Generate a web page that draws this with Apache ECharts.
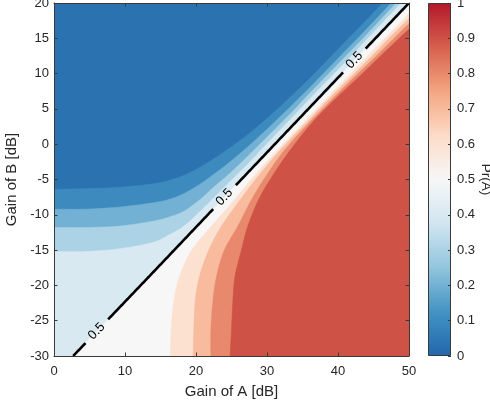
<!DOCTYPE html>
<html>
<head>
<meta charset="utf-8">
<script src="https://cdn.jsdelivr.net/npm/echarts@6.0.0/dist/echarts.min.js"></script>
<style>
  html, body { margin: 0; padding: 0; background: #ffffff; }
  #chart { width: 490px; height: 406px; }
</style>
</head>
<body>
<div id="chart"></div>
<script>
// Filled contours of Pr(A) over Gain of A [dB] (x) and Gain of B [dB] (y).
// Each level is stored as a boundary polyline; the region on its high side gets the level colour.
const levels = [0.1, 0.2, 0.3, 0.4, 0.5, 0.6, 0.7, 0.8, 0.9];

// Pr(A) = 0.1 .. 0.4 : from the left edge, bending up to the top edge
const c01x = [0, 4.6, 9.3, 14.0, 16.3, 18.3, 20.5, 22.6, 24.8, 27.6, 30.4, 33.2, 36.0, 38.8, 41.7, 44.5, 46.3];
const c01y = [-6.4, -6.3, -6.1, -5.6, -5.1, -4.4, -3.3, -2.0, -0.5, 1.6, 4.0, 6.6, 9.3, 12.2, 15.2, 18.1, 20];
const c02x = [0, 4.6, 9.3, 14.0, 16.3, 18.3, 20.5, 22.6, 24.8, 27.6, 30.4, 33.2, 36.0, 38.8, 41.7, 44.5, 47.5];
const c02y = [-9.2, -9.2, -8.9, -8.3, -7.8, -7.0, -5.7, -4.2, -2.5, -0.1, 2.5, 5.2, 8.0, 10.9, 13.9, 16.8, 20];
const c03x = [0, 4.6, 9.3, 14.0, 16.3, 18.3, 20.5, 22.6, 24.8, 27.6, 30.4, 33.2, 36.0, 38.8, 41.7, 44.5, 48.2];
const c03y = [-11.8, -11.8, -11.6, -10.9, -10.3, -9.5, -7.9, -6.0, -4.1, -1.4, 1.4, 4.2, 7.2, 10.1, 13.1, 16.0, 20];
const c04x = [0, 4.6, 9.3, 14.0, 16.3, 18.3, 20.5, 22.6, 24.8, 27.6, 30.4, 33.2, 36.0, 38.8, 41.7, 44.5, 48.9];
const c04y = [-15.2, -15.2, -14.8, -13.9, -12.8, -11.6, -9.6, -7.5, -5.3, -2.5, 0.5, 3.4, 6.4, 9.3, 12.3, 15.3, 20];

// Pr(A) = 0.5 : the labelled black contour
const c05x = [2.7, 14, 26, 38, 50];
const c05y = [-30, -18.1, -5.4, 7.3, 20];

// Pr(A) = 0.6 .. 0.9 : from the bottom edge, bending to the right edge
const c06x = [16.4, 16.5, 16.9, 17.7, 19.4, 22.2, 25.4, 28.1, 31.5, 35.2, 38.2, 41.2, 44.1, 46.4, 47.9, 50];
const c06y = [-30, -26.3, -22.1, -18.7, -15, -11.6, -7.9, -4.6, -0.8, 3.1, 6.3, 9.4, 12.4, 14.8, 16.3, 18.5];
const c07x = [19.6, 19.7, 19.9, 20.5, 21.8, 23.6, 26.2, 28.7, 31.9, 35.6, 38.6, 41.7, 44.7, 47.0, 50];
const c07y = [-30, -26.3, -22.1, -18.7, -15, -11.6, -7.9, -4.6, -0.8, 3.1, 6.3, 9.4, 12.4, 14.8, 17.8];
const c08x = [22.1, 22.1, 22.4, 22.9, 24.0, 25.9, 27.8, 29.8, 32.5, 36.0, 39.1, 42.2, 45.3, 47.7, 50];
const c08y = [-30, -26.3, -22.1, -18.7, -15, -11.6, -7.9, -4.6, -0.8, 3.1, 6.3, 9.4, 12.4, 14.8, 17.1];
const c09x = [24.8, 25.0, 25.2, 25.5, 26.4, 27.3, 28.8, 30.7, 33.3, 36.4, 39.5, 42.8, 45.9, 48.4, 50];
const c09y = [-30, -26.3, -22.1, -18.7, -15, -11.6, -7.9, -4.6, -0.8, 3.1, 6.3, 9.4, 12.4, 14.8, 16.3];

// where the "0.5" labels sit on the black contour
const labelX = [6.0, 24.0, 42.3];
const labelY = [-26.5, -7.5, 11.9];
const labelText = '0.5';

// band fills: below 0.1, 0.1-0.2, ..., 0.9-1
const bandColors = ['#2B72B1', '#3C8ABE', '#72B1D3', '#ABD2E5', '#D9E9F1',
                    '#F7F7F7', '#FCE1D1', '#F8BB9E', '#E8896D', '#CF5246'];
// colour bar scale, Pr(A) = 0 at the bottom to 1 at the top
const cmapColors = ['#2166ac', '#4393c3', '#92c5de', '#d1e5f0', '#f7f7f7',
                    '#fddbc7', '#f4a582', '#d6604d', '#b2182b'];
const colorbarTicks = [0, 0.1, 0.2, 0.3, 0.4, 0.5, 0.6, 0.7, 0.8, 0.9, 1];

const X_MIN = 0, X_MAX = 50, Y_MIN = -30, Y_MAX = 20;
const contourX = [c01x, c02x, c03x, c04x, c05x, c06x, c07x, c08x, c09x];
const contourY = [c01y, c02y, c03y, c04y, c05y, c06y, c07y, c08y, c09y];

const FONT = '"Liberation Sans", Arial, Helvetica, sans-serif';
const TEXT = '#262626';
const AXIS = '#3a3a3a';

// Catmull-Rom pass over pixel points so the boundaries render as smooth curves
function smoothPixels(pts, steps) {
  if (pts.length < 3) return pts.slice();
  const out = [pts[0]];
  for (let i = 0; i < pts.length - 1; i++) {
    const p0 = pts[Math.max(0, i - 1)], p1 = pts[i], p2 = pts[i + 1], p3 = pts[Math.min(pts.length - 1, i + 2)];
    for (let s = 1; s <= steps; s++) {
      const t = s / steps, t2 = t * t, t3 = t2 * t;
      const f = (a, b, c, d) => 0.5 * ((2 * b) + (-a + c) * t + (2 * a - 5 * b + 4 * c - d) * t2 + (-a + 3 * b - 3 * c + d) * t3);
      out.push([f(p0[0], p1[0], p2[0], p3[0]), f(p0[1], p1[1], p2[1], p3[1])]);
    }
  }
  return out;
}

function renderBand(params, api) {
  const k = api.value(0);
  let points;
  if (k === 0) {
    points = [[X_MIN, Y_MIN], [X_MIN, Y_MAX], [X_MAX, Y_MAX], [X_MAX, Y_MIN]].map(p => api.coord(p));
  } else {
    const xs = contourX[k - 1], ys = contourY[k - 1];
    const first = [xs[0], ys[0]], last = [xs[xs.length - 1], ys[ys.length - 1]];
    points = smoothPixels(xs.map((x, i) => api.coord([x, ys[i]])), 8);
    // close on the high side of the boundary along the plot edges
    const corners = [];
    if (last[1] >= Y_MAX && last[0] < X_MAX) corners.push([X_MAX, Y_MAX]);
    corners.push([X_MAX, Y_MIN]);
    if (first[0] <= X_MIN && first[1] > Y_MIN) corners.push([X_MIN, Y_MIN]);
    points = points.concat(corners.map(p => api.coord(p)));
  }
  return {
    type: 'polygon',
    shape: { points },
    style: { fill: bandColors[k], stroke: bandColors[k], lineWidth: 0.6 }
  };
}

function renderHalfContour(params, api) {
  const pts = c05x.map((x, i) => api.coord([x, c05y[i]]));
  const centers = labelX.map((x, i) => api.coord([x, labelY[i]]));
  const gapRadius = 16;
  const segments = [];
  let cur = [];
  for (let i = 0; i < pts.length - 1; i++) {
    const [x0, y0] = pts[i], [x1, y1] = pts[i + 1];
    const n = Math.max(1, Math.ceil(Math.hypot(x1 - x0, y1 - y0)));
    for (let s = (i === 0 ? 0 : 1); s <= n; s++) {
      const t = s / n;
      const p = [x0 + (x1 - x0) * t, y0 + (y1 - y0) * t];
      const inGap = centers.some(c => Math.hypot(p[0] - c[0], p[1] - c[1]) < gapRadius);
      if (inGap) {
        if (cur.length > 1) segments.push(cur);
        cur = [];
      } else {
        cur.push(p);
      }
    }
  }
  if (cur.length > 1) segments.push(cur);

  const a = pts[0], b = pts[pts.length - 1];
  const angle = Math.atan2(-(b[1] - a[1]), b[0] - a[0]);

  const children = segments.map(seg => ({
    type: 'polyline',
    shape: { points: seg },
    style: { stroke: '#000000', lineWidth: 2.6, fill: null, lineCap: 'butt' }
  }));
  centers.forEach(c => {
    children.push({
      type: 'text',
      x: c[0], y: c[1],
      rotation: angle,
      style: {
        text: labelText, x: 0, y: 0,
        align: 'center', verticalAlign: 'middle',
        font: '13px ' + FONT, fill: '#000000'
      }
    });
  });
  return { type: 'group', children };
}

const tickStyle = { show: true, inside: true, length: 3.5, lineStyle: { color: AXIS, width: 1 } };
const lineStyle = { show: true, onZero: false, lineStyle: { color: AXIS, width: 1 } };
const labelStyle = { color: TEXT, fontSize: 13, fontFamily: FONT };
const titleStyle = { color: TEXT, fontSize: 15, fontFamily: FONT };

const chart = echarts.init(document.getElementById('chart'), null, { renderer: 'canvas' });

chart.setOption({
  animation: false,
  backgroundColor: '#ffffff',
  grid: [
    { left: 54, top: 3, width: 355, height: 353, containLabel: false, outerBoundsMode: 'none' },
    { left: 428, top: 3, width: 23, height: 353, containLabel: false, outerBoundsMode: 'none' }
  ],
  xAxis: [
    {
      gridIndex: 0, type: 'value', min: X_MIN, max: X_MAX, interval: 10, position: 'bottom', z: 10,
      axisLine: lineStyle, axisTick: tickStyle, splitLine: { show: false },
      axisLabel: Object.assign({ margin: 9 }, labelStyle),
      name: 'Gain of A [dB]', nameLocation: 'middle', nameGap: 28,
      nameTextStyle: titleStyle
    },
    {
      gridIndex: 0, type: 'value', min: X_MIN, max: X_MAX, interval: 10, position: 'top', z: 10,
      axisLine: lineStyle, axisTick: tickStyle, splitLine: { show: false },
      axisLabel: { show: false }
    },
    {
      gridIndex: 1, type: 'category', data: ['Pr(A)'], position: 'bottom',
      axisLine: { show: false }, axisTick: { show: false }, axisLabel: { show: false }
    }
  ],
  yAxis: [
    {
      gridIndex: 0, type: 'value', min: Y_MIN, max: Y_MAX, interval: 5, position: 'left', z: 10,
      axisLine: lineStyle, axisTick: tickStyle, splitLine: { show: false },
      axisLabel: Object.assign({ margin: 5 }, labelStyle),
      name: 'Gain of B [dB]', nameLocation: 'middle', nameGap: 30, nameRotate: 90,
      nameTextStyle: titleStyle
    },
    {
      gridIndex: 0, type: 'value', min: Y_MIN, max: Y_MAX, interval: 5, position: 'right', z: 10,
      axisLine: lineStyle, axisTick: tickStyle, splitLine: { show: false },
      axisLabel: { show: false }
    },
    {
      gridIndex: 1, type: 'value', min: 0, max: 1, interval: 0.1, position: 'right', z: 10,
      axisLine: { show: false }, axisTick: { show: true, inside: true, length: 3, lineStyle: { color: AXIS, width: 1 } },
      splitLine: { show: false },
      axisLabel: Object.assign({ margin: 6 }, labelStyle),
      name: 'Pr(A)', nameLocation: 'middle', nameGap: 27, nameRotate: -90,
      nameTextStyle: { color: TEXT, fontSize: 13.5, fontFamily: FONT }
    }
  ],
  series: [
    {
      type: 'custom', name: 'bands', xAxisIndex: 0, yAxisIndex: 0, clip: true, z: 2,
      renderItem: renderBand,
      data: bandColors.map((c, k) => [k, 0]),
      silent: true
    },
    {
      type: 'custom', name: 'Pr(A) = 0.5', xAxisIndex: 0, yAxisIndex: 0, clip: true, z: 3,
      renderItem: renderHalfContour,
      data: [[0, 0]],
      silent: true
    },
    {
      type: 'bar', name: 'colour bar', xAxisIndex: 2, yAxisIndex: 2, barWidth: '100%',
      data: [colorbarTicks[colorbarTicks.length - 1]],
      itemStyle: {
        color: new echarts.graphic.LinearGradient(0, 1, 0, 0,
          cmapColors.map((c, i) => ({ offset: i / (cmapColors.length - 1), color: c }))),
        borderColor: AXIS, borderWidth: 1
      },
      silent: true
    }
  ]
});
</script>
</body>
</html>
